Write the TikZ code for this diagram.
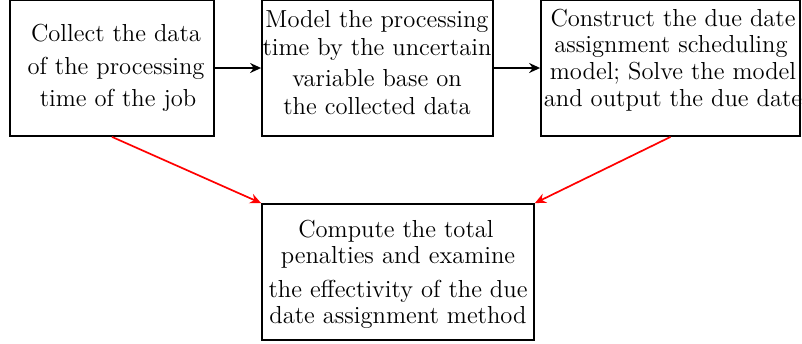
\documentclass[tikz,border=0pt]{standalone}
\usetikzlibrary{arrows.meta}
\begin{document}
\begin{tikzpicture}[x=0.5pt,y=-0.5pt,
  box/.style={draw=black,line width=0.9pt,minimum width=#1,inner sep=0pt,minimum height=68pt},
  txt/.style={align=center,inner sep=0pt},
  flow/.style={-{Stealth[length=5.5pt,width=5pt,inset=1.8pt]},line width=0.85pt},
  redflow/.style={flow,red}]
\useasboundingbox (0,0) rectangle (802,343);
\node[box=102pt] (b1) at (112,68) {};
\node[box=115.5pt] (b2) at (377.5,68) {};
\node[box=129.5pt] (b3) at (670.5,68) {};
\node[box=136pt] (b4) at (398,272) {};
\node[txt,font=\fontsize{12.3}{16.25}\selectfont] (t1) at (116,68) {Collect the data\\of the processing\\\,time of the job};
\node[txt,font=\fontsize{12.3}{13.8}\selectfont] (t2) at (377,62.5) {Model the processing\\time by the uncertain\\[2pt]variable base on\\the collected data};
\node[txt,font=\fontsize{12.3}{13.3}\selectfont] (t3) at (673,60) {Construct the due date\\assignment scheduling\,\\model; Solve the model\\and output the due date};
\node[txt,font=\fontsize{12.3}{13}\selectfont] (t4) at (398,274) {Compute the total\,\\penalties and examine\\[4pt]the effectivity of the due\\date assignment method};
\draw[flow] (b1) -- (b2);
\draw[flow] (b2) -- (b3);
\draw[redflow] (b1.south) -- (b4.north west);
\draw[redflow] (b3.south) -- (b4.north east);
\end{tikzpicture}
\end{document}
